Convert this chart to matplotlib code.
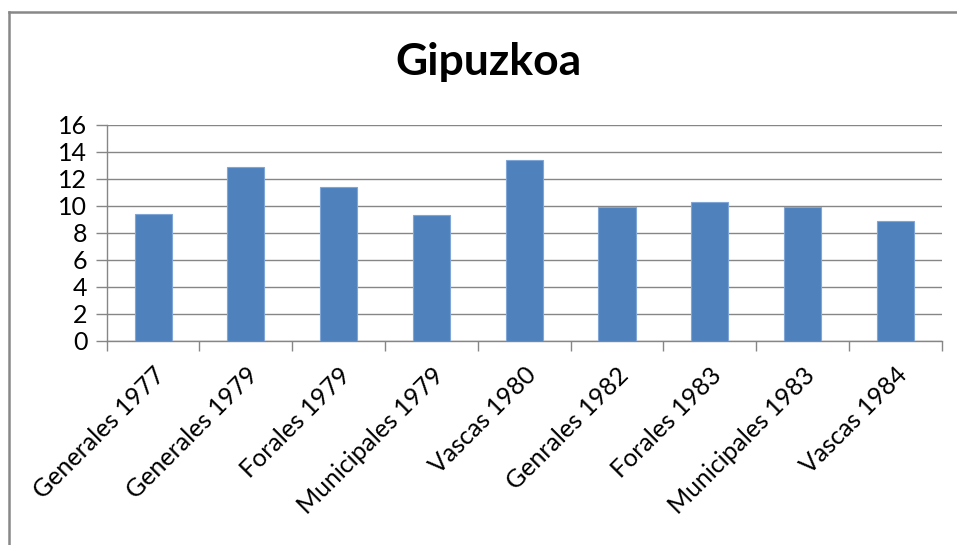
import matplotlib.pyplot as plt
import numpy as np
from matplotlib.lines import Line2D

categories = [
    "Generales 1977",
    "Generales 1979",
    "Forales 1979",
    "Municipales 1979",
    "Vascas 1980",
    "Genrales 1982",
    "Forales 1983",
    "Municipales 1983",
    "Vascas 1984",
]
values = [9.4, 12.9, 11.4, 9.3, 13.4, 9.9, 10.25, 9.9, 8.9]
y_ticks = [0, 2, 4, 6, 8, 10, 12, 14, 16]

plt.rcParams["font.family"] = ["Lato", "DejaVu Sans"]

fig = plt.figure(figsize=(9.57, 5.45), dpi=100)
W, H = 957, 545
ax = fig.add_axes([106.7 / W, 1 - 341 / H, (941.7 - 106.7) / W, (341 - 124.7) / H])

x = np.arange(len(categories))
ax.bar(x, values, width=0.4, color="#4F81BD", edgecolor="#7FA6D6", linewidth=0.8, zorder=3)

ax.set_xlim(-0.5, len(categories) - 0.5)
ax.set_ylim(0, 16)
ax.set_yticks(y_ticks)
ax.set_yticklabels([str(t) for t in y_ticks], fontsize=18)
ax.yaxis.grid(True, color="#868686", linewidth=1.0, zorder=0)

# category boundary ticks
ax.set_xticks(np.arange(len(categories) + 1) - 0.5)
ax.set_xticklabels([])
ax.set_xticks(x, minor=True)
ax.set_xticklabels(categories, minor=True, rotation=45, ha="right",
                   rotation_mode="anchor", fontsize=18)
ax.tick_params(axis="x", which="major", length=7, color="#868686", width=1)
ax.tick_params(axis="x", which="minor", length=0, pad=16)
ax.tick_params(axis="y", length=8, color="#868686", width=1, pad=6)

for side in ["top", "right"]:
    ax.spines[side].set_visible(False)
for side in ["left", "bottom"]:
    ax.spines[side].set_color("#868686")
    ax.spines[side].set_linewidth(1)

fig.text(488 / W, 1 - 62 / H, "Gipuzkoa", ha="center", va="center",
         fontsize=32, fontweight="bold")

# chart frame (top and left edges)
fig.add_artist(Line2D([9 / W, 9 / W], [0, 1 - 12 / H], transform=fig.transFigure,
                      color="#888888", linewidth=1.8))
fig.add_artist(Line2D([9 / W, 1], [1 - 12 / H, 1 - 12 / H], transform=fig.transFigure,
                      color="#888888", linewidth=1.8))

fig.savefig("out.png", dpi=100)
